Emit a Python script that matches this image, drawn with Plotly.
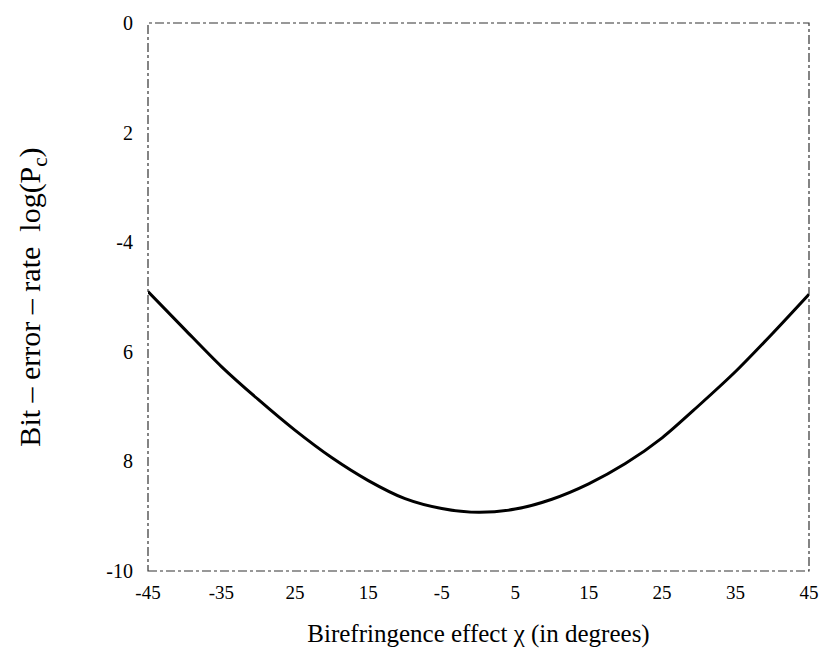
import plotly.graph_objects as go

# Data
chi_deg = [-45, -40, -35, -30, -25, -20, -15, -10, -5, 0, 5, 10, 15, 20, 25, 30, 35, 40, 45]
log_pe = [-4.90, -5.59, -6.27, -6.87, -7.43, -7.93, -8.35, -8.68, -8.86, -8.93,
          -8.87, -8.69, -8.41, -8.04, -7.57, -6.98, -6.36, -5.67, -4.95]

x_tick_vals = [-45, -35, -25, -15, -5, 5, 15, 25, 35, 45]
x_tick_text = ["-45", "-35", "25", "15", "-5", "5", "15", "25", "35", "45"]
y_tick_vals = [0, -2, -4, -6, -8, -10]
y_tick_text = ["0", "2", "-4", "6", "8", "-10"]

FONT = "Liberation Serif"

fig = go.Figure()
fig.add_trace(go.Scatter(
    x=chi_deg, y=log_pe, mode="lines",
    line=dict(color="black", width=3, shape="spline", smoothing=0.8),
    showlegend=False, hoverinfo="skip",
))

fig.update_layout(
    width=837, height=659,
    margin=dict(l=148, r=28, t=18, b=88),
    paper_bgcolor="white", plot_bgcolor="white",
    font=dict(family=FONT, color="black", size=18),
    xaxis=dict(
        range=[-45, 45], tickmode="array", tickvals=x_tick_vals, ticktext=x_tick_text,
        showgrid=False, zeroline=False, showline=False, ticks="",
        ticklabelstandoff=8,
        tickfont=dict(family=FONT, size=19, color="black"),
        title=dict(text="Birefringence effect χ (in degrees)",
                   font=dict(family=FONT, size=25, color="black"), standoff=22),
    ),
    yaxis=dict(
        range=[-10, 0], tickmode="array", tickvals=y_tick_vals, ticktext=y_tick_text,
        showgrid=False, zeroline=False, showline=False, ticks="",
        ticklabelstandoff=14,
        tickfont=dict(family=FONT, size=20, color="black"),
        title=dict(text="Bit – error – rate  log(P<sub>c</sub>)",
                   font=dict(family=FONT, size=30, color="black"), standoff=56),
    ),
)

fig.add_shape(type="rect", xref="paper", yref="paper", x0=0, y0=0, x1=1, y1=1,
              line=dict(color="#333333", width=1.2, dash="dashdot"), layer="below")

fig.write_html("out.html")
